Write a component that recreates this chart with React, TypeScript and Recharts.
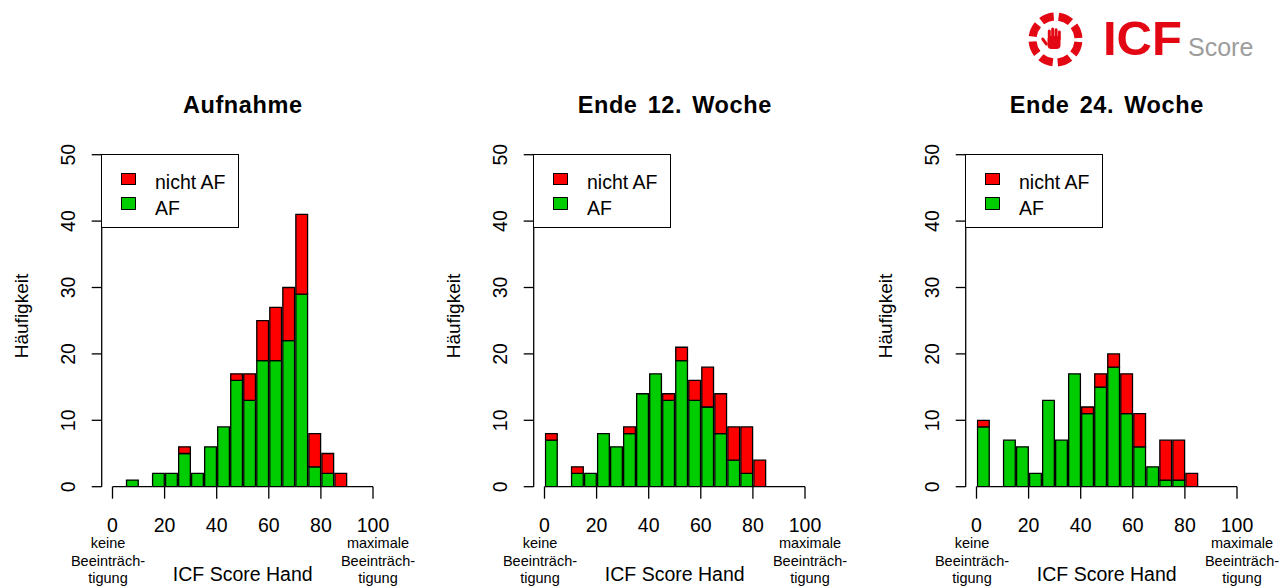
import React from 'react';
import { BarChart, Bar, XAxis, YAxis, ReferenceLine } from 'recharts';

const BIN_MIDS = [2.5,7.5,12.5,17.5,22.5,27.5,32.5,37.5,42.5,47.5,52.5,57.5,62.5,67.5,72.5,77.5,82.5,87.5,92.5,97.5];
const X_TICKS = [0, 20, 40, 60, 80, 100];
const Y_TICKS = [0, 10, 20, 30, 40, 50];

const TITLES = ['Aufnahme', 'Ende 12. Woche', 'Ende 24. Woche'];

const AUFNAHME_AF = [0,1,0,2,2,5,2,6,9,16,13,19,19,22,29,3,2,0,0,0];
const AUFNAHME_NICHT = [0,0,0,0,0,1,0,0,0,1,4,6,8,8,12,5,3,2,0,0];
const W12_AF = [7,0,2,2,8,6,8,14,17,13,19,13,12,8,4,2,0,0,0,0];
const W12_NICHT = [1,0,1,0,0,0,1,0,0,1,2,3,6,6,5,7,4,0,0,0];
const W24_AF = [9,0,7,6,2,13,7,17,11,15,18,11,6,3,1,1,0,0,0,0];
const W24_NICHT = [1,0,0,0,0,0,0,0,1,2,2,6,5,0,6,6,2,0,0,0];

const LEGEND_LABELS = ['nicht AF', 'AF'];
const X_LABEL = 'ICF Score Hand';
const Y_LABEL = 'Häufigkeit';
const LEFT_NOTE = ['keine', 'Beeinträch-', 'tigung'];
const RIGHT_NOTE = ['maximale', 'Beeinträch-', 'tigung'];

const FONT = '"Liberation Sans", Arial, Helvetica, sans-serif';
const RED = '#FF0000';
const GREEN = '#00CD00';
const SW = 1.3;

const PANEL_STEP = 432;
const CHART_W = 430;
const CHART_H = 588;
const YAXIS_X = 101.7;
const PAD_L = 10.8;
const X100 = 373;
const PLOT_TOP = 154.7;
const PLOT_BOTTOM = 486.7;
const BAR_W = (X100 - YAXIS_X - PAD_L) / 20;

const XTick = (props: any) => {
  const { x, payload } = props;
  return (
    <text x={x} y={532} textAnchor="middle" fontSize={19.5} fontFamily={FONT} fill="#000">
      {payload.value}
    </text>
  );
};

const YTick = (props: any) => {
  const { y, payload } = props;
  const cx = 68.3;
  return (
    <text
      x={cx}
      y={y}
      textAnchor="middle"
      dominantBaseline="central"
      transform={`rotate(-90, ${cx}, ${y})`}
      fontSize={19.5}
      fontFamily={FONT}
      fill="#000"
    >
      {payload.value}
    </text>
  );
};

type TxtProps = { x: number; y: number; size: number; bold?: boolean; rotate?: boolean; anchor?: 'middle' | 'start'; color?: string; wordSpacing?: number; letterSpacing?: number; children: React.ReactNode };
const Txt = ({ x, y, size, bold, rotate, anchor = 'middle', color = '#000', wordSpacing = 0, letterSpacing = 0, children }: TxtProps) => (
  <div
    style={{
      position: 'absolute',
      left: x,
      top: y,
      transform: `translate(${anchor === 'middle' ? '-50%' : '0'}, -50%)${rotate ? ' rotate(-90deg)' : ''}`,
      fontSize: size,
      fontWeight: bold ? 'bold' : 'normal',
      whiteSpace: 'nowrap',
      lineHeight: 1,
      fontFamily: FONT,
      wordSpacing,
      letterSpacing,
      color,
    }}
  >
    {children}
  </div>
);

function Panel({ index, af, nicht }: { index: number; af: number[]; nicht: number[] }) {
  const off = index * PANEL_STEP;
  const data = BIN_MIDS.map((m, i) => ({ mid: m, af: af[i], nicht: nicht[i] }));
  const x0 = YAXIS_X + PAD_L;
  const xMid = (x0 + X100) / 2;
  const yAxisWidth = 40;
  const xAxisHeight = 40;
  return (
    <>
      <div style={{ position: 'absolute', left: off, top: 0, width: CHART_W, height: CHART_H }}>
        <BarChart
          width={CHART_W}
          height={CHART_H}
          data={data}
          margin={{ top: PLOT_TOP, right: CHART_W - X100, bottom: CHART_H - PLOT_BOTTOM - xAxisHeight, left: YAXIS_X - yAxisWidth }}
          barCategoryGap={0}
          barGap={0}
        >
          <XAxis
            dataKey="mid"
            type="number"
            domain={[0, 100]}
            ticks={X_TICKS}
            interval={0}
            allowDataOverflow
            padding={{ left: PAD_L, right: 0 }}
            height={xAxisHeight}
            axisLine={false}
            tickLine={{ stroke: '#000', strokeWidth: SW }}
            tickSize={12}
            tick={<XTick />}
          />
          <YAxis
            type="number"
            domain={[0, 50]}
            ticks={Y_TICKS}
            interval={0}
            allowDataOverflow
            width={yAxisWidth}
            axisLine={{ stroke: '#000', strokeWidth: SW }}
            tickLine={{ stroke: '#000', strokeWidth: SW }}
            tickSize={10}
            tick={<YTick />}
          />
          <Bar dataKey="af" stackId="s" barSize={BAR_W} fill={GREEN} stroke="#000" strokeWidth={SW} isAnimationActive={false} />
          <Bar dataKey="nicht" stackId="s" barSize={BAR_W} fill={RED} stroke="#000" strokeWidth={SW} isAnimationActive={false} />
          <ReferenceLine segment={[{ x: 0, y: 0 }, { x: 100, y: 0 }]} stroke="#000" strokeWidth={SW} ifOverflow="visible" />
        </BarChart>
      </div>
      <Txt x={off + xMid} y={106} size={23.5} bold wordSpacing={3} letterSpacing={0.6}>{TITLES[index]}</Txt>
      <Txt x={off + 20.5} y={316} size={19} rotate>{Y_LABEL}</Txt>
      <Txt x={off + xMid} y={574.5} size={19.5}>{X_LABEL}</Txt>
      {LEFT_NOTE.map((t, i) => (
        <Txt key={'l' + i} x={off + 108} y={543 + i * 17.5} size={14.5}>{t}</Txt>
      ))}
      {RIGHT_NOTE.map((t, i) => (
        <Txt key={'r' + i} x={off + 378} y={543 + i * 17.5} size={14.5}>{t}</Txt>
      ))}
      <div
        style={{
          position: 'absolute',
          left: off + YAXIS_X - 0.6,
          top: PLOT_TOP - 0.6,
          width: 138,
          height: 74,
          border: `${SW}px solid #000`,
          boxSizing: 'border-box',
          background: '#fff',
        }}
      />
      <div style={{ position: 'absolute', left: off + 121, top: 172.7, width: 15, height: 12.6, background: RED, border: `${SW}px solid #000`, boxSizing: 'border-box' }} />
      <div style={{ position: 'absolute', left: off + 121, top: 197.3, width: 15, height: 12.6, background: GREEN, border: `${SW}px solid #000`, boxSizing: 'border-box' }} />
      <Txt x={off + 155} y={182.5} size={19.5} anchor="start">{LEGEND_LABELS[0]}</Txt>
      <Txt x={off + 155} y={209} size={19.5} anchor="start">{LEGEND_LABELS[1]}</Txt>
    </>
  );
}

function Logo() {
  const cx = 1055.5;
  const cy = 39.5;
  const r = 23;
  const circ = 2 * Math.PI * r;
  const seg = circ / 8;
  const dash = seg * 0.72;
  const gap = seg - dash;
  return (
    <svg style={{ position: 'absolute', left: 0, top: 0 }} width={1287} height={80}>
      <circle
        cx={cx}
        cy={cy}
        r={r}
        fill="none"
        stroke="#E30613"
        strokeWidth={8}
        strokeDasharray={`${dash} ${gap}`}
        strokeDashoffset={dash + gap / 2}
      />
      <g fill="#E30613">
        <rect x={1047.5} y={36} width={13} height={13} rx={4} />
        <rect x={1047.8} y={29.5} width={3} height={11} rx={1.5} />
        <rect x={1051.2} y={27.5} width={3} height={12} rx={1.5} />
        <rect x={1054.6} y={28.2} width={3} height={12} rx={1.5} />
        <rect x={1058} y={30.5} width={2.8} height={10} rx={1.4} />
        <rect x={1043} y={37} width={3} height={9} rx={1.5} transform="rotate(-35, 1044.5, 41.5)" />
      </g>
      <text x={1103} y={55} fontFamily={FONT} fontWeight="bold" fontSize={49} fill="#E30613">ICF</text>
      <text x={1188} y={56} fontFamily={FONT} fontSize={25} fill="#9d9d9d">Score</text>
    </svg>
  );
}

export default function App() {
  return (
    <div style={{ position: 'absolute', left: 0, top: 0, width: 1287, height: 588, overflow: 'hidden', background: '#fff', fontFamily: FONT }}>
      <Logo />
      <Panel index={0} af={AUFNAHME_AF} nicht={AUFNAHME_NICHT} />
      <Panel index={1} af={W12_AF} nicht={W12_NICHT} />
      <Panel index={2} af={W24_AF} nicht={W24_NICHT} />
    </div>
  );
}
